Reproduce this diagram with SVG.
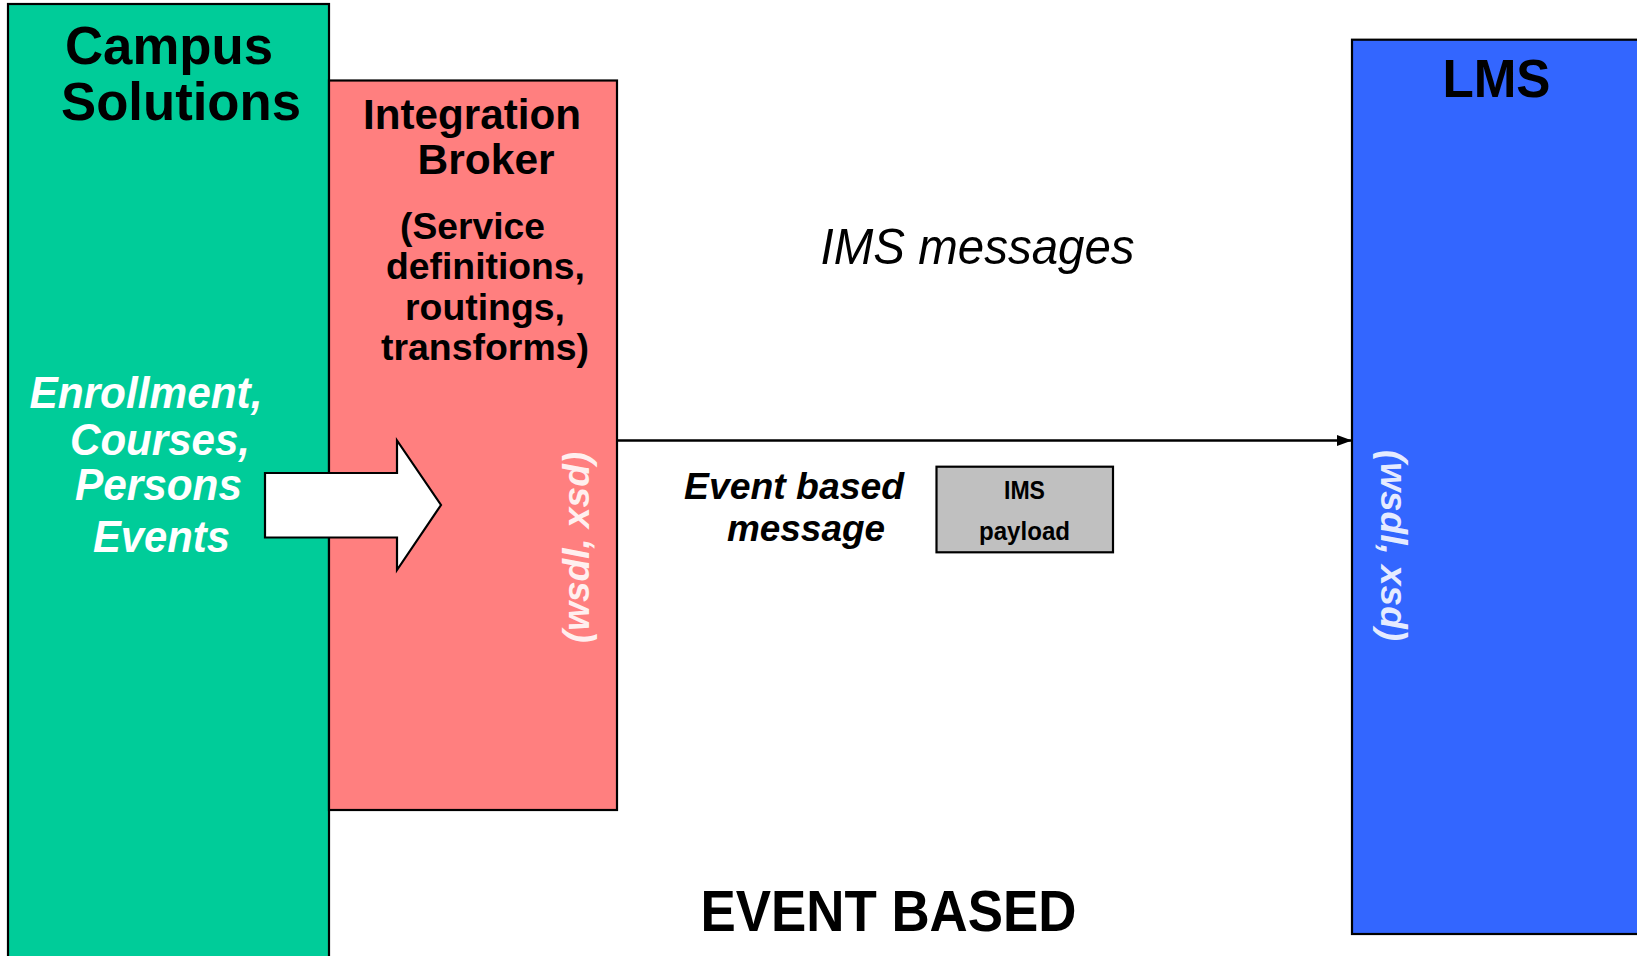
<svg xmlns="http://www.w3.org/2000/svg" width="1637" height="956" viewBox="0 0 1637 956">
<defs>
<style>
.box{stroke:#000;stroke-width:2.2}
.t{font-family:"Liberation Sans",Arial,sans-serif;font-weight:bold}
.bi{font-family:"Liberation Sans",Arial,sans-serif;font-weight:bold;font-style:italic}
.i{font-family:"Liberation Sans",Arial,sans-serif;font-style:italic}
.rot{font-family:"Liberation Sans",Arial,sans-serif;font-weight:bold;font-style:italic;font-size:37px;fill:#fff;fill-opacity:0.88}
</style>
<marker id="ah" viewBox="0 0 15 11" refX="15" refY="5.5" markerWidth="15" markerHeight="11" markerUnits="userSpaceOnUse" orient="auto"><path d="M0,0 L15,5.5 L0,11 z" fill="#000"/></marker>
</defs>
<rect width="1637" height="956" fill="#fff"/>
<g id="node-campus">
<rect x="8" y="4" width="321" height="970" fill="#00CC99" class="box"/>
<text class="t" font-size="54" x="65" y="63.5" textLength="208" lengthAdjust="spacingAndGlyphs">Campus</text>
<text class="t" font-size="54" x="61" y="120" textLength="240" lengthAdjust="spacingAndGlyphs">Solutions</text>
</g>
<g id="node-broker">
<rect x="329" y="80.5" width="288" height="729.5" fill="#FF7F7F" class="box"/>
<text class="t" font-size="42" x="363" y="129" textLength="218" lengthAdjust="spacingAndGlyphs">Integration</text>
<text class="t" font-size="42" x="417.6" y="174" textLength="137" lengthAdjust="spacingAndGlyphs">Broker</text>
<text class="t" font-size="37.5" x="400" y="239" textLength="145" lengthAdjust="spacingAndGlyphs">(Service</text>
<text class="t" font-size="37.5" x="386" y="279" textLength="199" lengthAdjust="spacingAndGlyphs">definitions,</text>
<text class="t" font-size="37.5" x="405" y="320" textLength="160" lengthAdjust="spacingAndGlyphs">routings,</text>
<text class="t" font-size="37.5" x="381" y="359.5" textLength="208" lengthAdjust="spacingAndGlyphs">transforms)</text>
<text class="rot" transform="translate(589,547.5) rotate(-90)" text-anchor="middle">(wsdl, xsd)</text>
</g>
<g id="node-lms">
<rect x="1352" y="39.7" width="300" height="894.3" fill="#3366FF" class="box"/>
<text class="t" font-size="53" x="1442.5" y="97" textLength="108" lengthAdjust="spacingAndGlyphs">LMS</text>
<text class="rot" transform="translate(1380.5,545.5) rotate(90)" text-anchor="middle">(wsdl, xsd)</text>
</g>
<g id="node-flow">
<polygon points="265,473 397,473 397,440.5 441,505 397,570 397,537.5 265,537.5" fill="#fff" stroke="#000" stroke-width="2.2" stroke-linejoin="miter"/>
</g>
<g id="label-data" class="bi" font-size="44" fill="#fff">
<text x="29.5" y="408" textLength="233" lengthAdjust="spacingAndGlyphs">Enrollment,</text>
<text x="70" y="455" textLength="180" lengthAdjust="spacingAndGlyphs">Courses,</text>
<text x="75" y="500" textLength="167" lengthAdjust="spacingAndGlyphs">Persons</text>
<text x="93" y="552" textLength="137" lengthAdjust="spacingAndGlyphs">Events</text>
</g>
<g id="connectors">
<line x1="617" y1="440.5" x2="1352" y2="440.5" stroke="#000" stroke-width="2.5" marker-end="url(#ah)"/>
</g>
<g id="label-ims">
<text class="i" font-size="50" x="820.6" y="263.5" textLength="314" lengthAdjust="spacingAndGlyphs">IMS messages</text>
</g>
<g id="label-event">
<text class="bi" font-size="37.5" x="684" y="499" textLength="220" lengthAdjust="spacingAndGlyphs">Event based</text>
<text class="bi" font-size="37.5" x="727" y="541" textLength="158" lengthAdjust="spacingAndGlyphs">message</text>
</g>
<g id="node-payload">
<rect x="936.5" y="466.7" width="176.5" height="85.6" fill="#C0C0C0" class="box"/>
<text class="t" font-size="25" x="1024.5" y="498.5" text-anchor="middle" textLength="41" lengthAdjust="spacingAndGlyphs">IMS</text>
<text class="t" font-size="25" x="1024.5" y="540" text-anchor="middle" textLength="91" lengthAdjust="spacingAndGlyphs">payload</text>
</g>
<g id="title">
<text class="t" font-size="57" x="700.5" y="931" textLength="376" lengthAdjust="spacingAndGlyphs">EVENT BASED</text>
</g>
</svg>
